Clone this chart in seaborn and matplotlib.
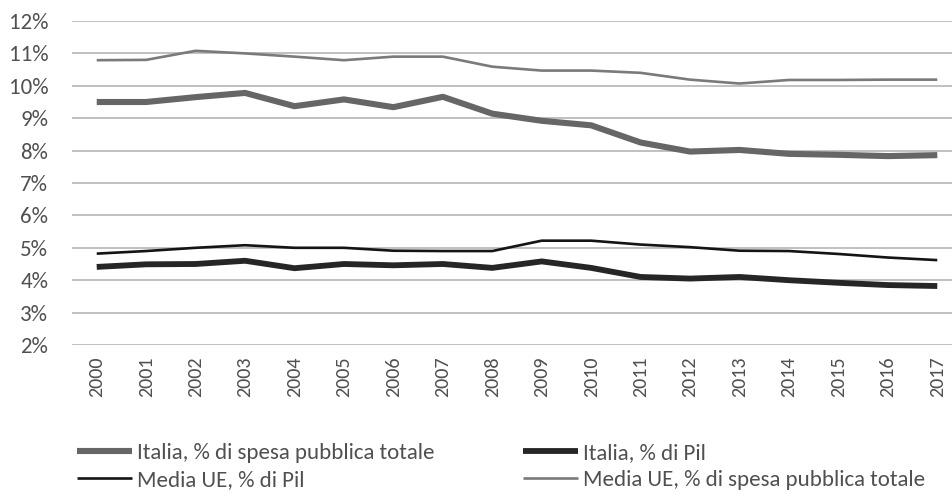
import matplotlib
matplotlib.use("Agg")
import matplotlib.pyplot as plt
from matplotlib import font_manager
from matplotlib.ticker import FuncFormatter
import seaborn as sns
import pandas as pd

years = list(range(2000, 2018))

italia_spesa = [9.5, 9.5, 9.65, 9.78, 9.37, 9.58, 9.34, 9.66, 9.14, 8.92, 8.78, 8.25, 7.97, 8.02, 7.9, 7.87, 7.83, 7.86]
italia_pil = [4.41, 4.49, 4.5, 4.6, 4.37, 4.5, 4.46, 4.5, 4.38, 4.58, 4.38, 4.1, 4.05, 4.1, 4.0, 3.92, 3.85, 3.82]
ue_pil = [4.82, 4.9, 5.0, 5.08, 5.0, 5.0, 4.91, 4.9, 4.9, 5.22, 5.22, 5.1, 5.02, 4.91, 4.9, 4.81, 4.7, 4.62]
ue_spesa = [10.79, 10.8, 11.08, 11.0, 10.9, 10.79, 10.9, 10.9, 10.59, 10.47, 10.47, 10.4, 10.19, 10.07, 10.18, 10.18, 10.19, 10.19]

labels = {
    "italia_spesa": "Italia, % di spesa pubblica totale",
    "italia_pil": "Italia, % di Pil",
    "ue_pil": "Media UE, % di Pil",
    "ue_spesa": "Media UE, % di spesa pubblica totale",
}

sns.set_style("white")
available = {f.name for f in font_manager.fontManager.ttflist}
family = [f for f in ["Carlito", "Source Sans 3", "Source Sans Pro", "Lato", "DejaVu Sans"] if f in available]
plt.rcParams["font.family"] = family

text_color = "#505050"

fig = plt.figure(figsize=(9.53, 4.97), dpi=100)
ax = fig.add_axes([72 / 953, 1 - 345 / 497, (962 - 72) / 953, (345 - 21) / 497])

series = {
    "italia_spesa": (italia_spesa, "#666666", 4.4),
    "ue_pil": (ue_pil, "#141414", 1.9),
    "italia_pil": (italia_pil, "#262626", 4.2),
    "ue_spesa": (ue_spesa, "#7a7a7a", 1.9),
}

handles = {}
for key, (vals, color, lw) in series.items():
    df = pd.DataFrame({"anno": years, "valore": vals})
    sns.lineplot(data=df, x="anno", y="valore", ax=ax, color=color, linewidth=lw,
                 solid_capstyle="butt", legend=False)
    handles[key] = ax.lines[-1]

ax.set_xlim(1999.5, 2017.5)
ax.set_ylim(2, 12)
ax.set_yticks(range(2, 13))
ax.yaxis.set_major_formatter(FuncFormatter(lambda v, p: f"{int(v)}%"))
ax.set_xticks(years)
ax.set_xticklabels([str(y) for y in years], rotation=90)
ax.grid(axis="y", color="#c0c0c0", linewidth=1.4)
ax.set_axisbelow(True)
ax.set_xlabel("")
ax.set_ylabel("")
for s in ax.spines.values():
    s.set_visible(False)
ax.tick_params(axis="both", length=0, labelcolor=text_color)
ax.tick_params(axis="y", labelsize=16.5, pad=17)
ax.tick_params(axis="x", labelsize=14.5, pad=8)

# two legend columns, each placed at its own left edge
legend_kw = dict(loc="upper left", frameon=False, fontsize=16.5, handlelength=2.4,
                 handletextpad=0.2, labelspacing=0.3, borderpad=0, borderaxespad=0,
                 labelcolor=text_color)
left_keys = ["italia_spesa", "ue_pil"]
right_keys = ["italia_pil", "ue_spesa"]
top = 1 - 443 / 497
fig.legend([handles[k] for k in left_keys], [labels[k] for k in left_keys],
           bbox_to_anchor=(77 / 953, top), **legend_kw)
fig.legend([handles[k] for k in right_keys], [labels[k] for k in right_keys],
           bbox_to_anchor=(523 / 953, top), **legend_kw)

fig.savefig("out.png", dpi=100)
